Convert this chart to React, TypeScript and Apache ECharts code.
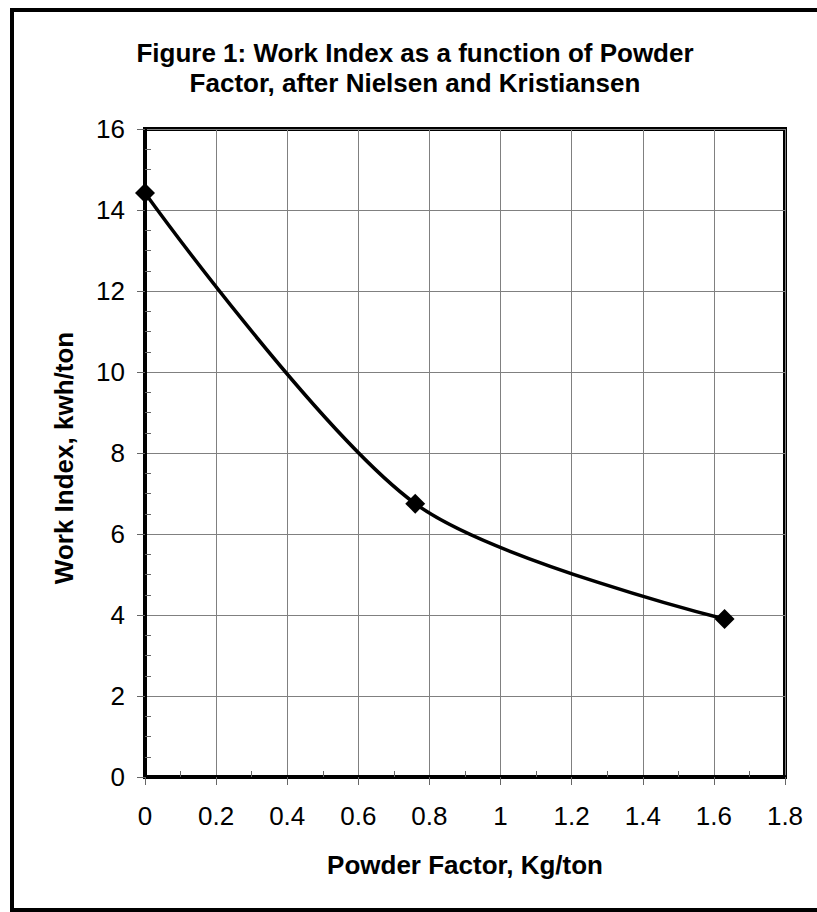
import React, { useEffect, useRef } from "react";
import * as echarts from "echarts";

const powderFactor = [0, 0.76, 1.63];
const workIndex = [14.42, 6.75, 3.9];
const titleLines = ["Figure 1: Work Index as a function of Powder", "Factor, after Nielsen and Kristiansen"];
const xAxisTitle = "Powder Factor, Kg/ton";
const yAxisTitle = "Work Index, kwh/ton";

const FONT = '"Liberation Sans", Arial, sans-serif';

export default function App() {
  const ref = useRef<HTMLDivElement>(null);
  useEffect(() => {
    if (!ref.current) return;
    const chart = echarts.init(ref.current, null, { renderer: "svg" });
    const data = powderFactor.map((x, i) => [x, workIndex[i]]);
    chart.setOption({
      animation: false,
      backgroundColor: "#ffffff",
      title: {
        text: titleLines.join("\n"),
        left: 415,
        top: 38,
        padding: 0,
        textAlign: "center",
        textStyle: { fontFamily: FONT, fontSize: 26, fontWeight: "bold", color: "#000", lineHeight: 30 },
      },
      grid: {
        left: 145,
        top: 129,
        width: 640,
        height: 648,
        show: true,
        borderColor: "#000",
        borderWidth: 4,
        backgroundColor: "transparent",
      },
      xAxis: {
        type: "value",
        min: 0,
        max: 1.8,
        interval: 0.2,
        axisLine: { show: true, onZero: false, lineStyle: { color: "#000", width: 4 } },
        axisTick: { show: true, inside: false, length: 8, lineStyle: { color: "#666", width: 1 } },
        minorTick: { show: true, splitNumber: 2, length: -6, lineStyle: { color: "#666", width: 1 } },
        splitLine: { show: true, lineStyle: { color: "#808080", width: 1 } },
        axisLabel: {
          fontFamily: FONT,
          fontSize: 26,
          color: "#000",
          margin: 26,
          formatter: (v: number) => String(+v.toFixed(1)),
        },
      },
      yAxis: {
        type: "value",
        min: 0,
        max: 16,
        interval: 2,
        axisLine: { show: true, onZero: false, lineStyle: { color: "#000", width: 4 } },
        axisTick: { show: true, inside: false, length: 8, lineStyle: { color: "#666", width: 1 } },
        minorTick: { show: true, splitNumber: 4, length: -6, lineStyle: { color: "#666", width: 1 } },
        splitLine: { show: true, lineStyle: { color: "#808080", width: 1 } },
        axisLabel: { fontFamily: FONT, fontSize: 26, color: "#000", margin: 20 },
      },
      graphic: [
        {
          type: "polyline",
          shape: { points: [[830, 10], [12, 10], [12, 910], [830, 910]] },
          style: { fill: "none", stroke: "#000", lineWidth: 4 },
          silent: true,
        },
        {
          type: "text",
          x: 465,
          y: 865,
          style: {
            text: xAxisTitle,
            fontFamily: FONT,
            fontSize: 26,
            fontWeight: "bold",
            fill: "#000",
            align: "center",
            verticalAlign: "middle",
          },
        },
        {
          type: "text",
          x: 64,
          y: 458,
          rotation: Math.PI / 2,
          style: {
            text: yAxisTitle,
            fontFamily: FONT,
            fontSize: 26,
            fontWeight: "bold",
            fill: "#000",
            align: "center",
            verticalAlign: "middle",
          },
        },
      ],
      series: [
        {
          type: "line",
          data,
          smooth: 0.3,
          clip: false,
          symbol: "diamond",
          symbolSize: 20,
          itemStyle: { color: "#000" },
          lineStyle: { color: "#000", width: 3.5 },
        },
      ],
    });
    return () => chart.dispose();
  }, []);
  return <div ref={ref} style={{ position: "absolute", left: 0, top: 0, width: 817, height: 912 }} />;
}
